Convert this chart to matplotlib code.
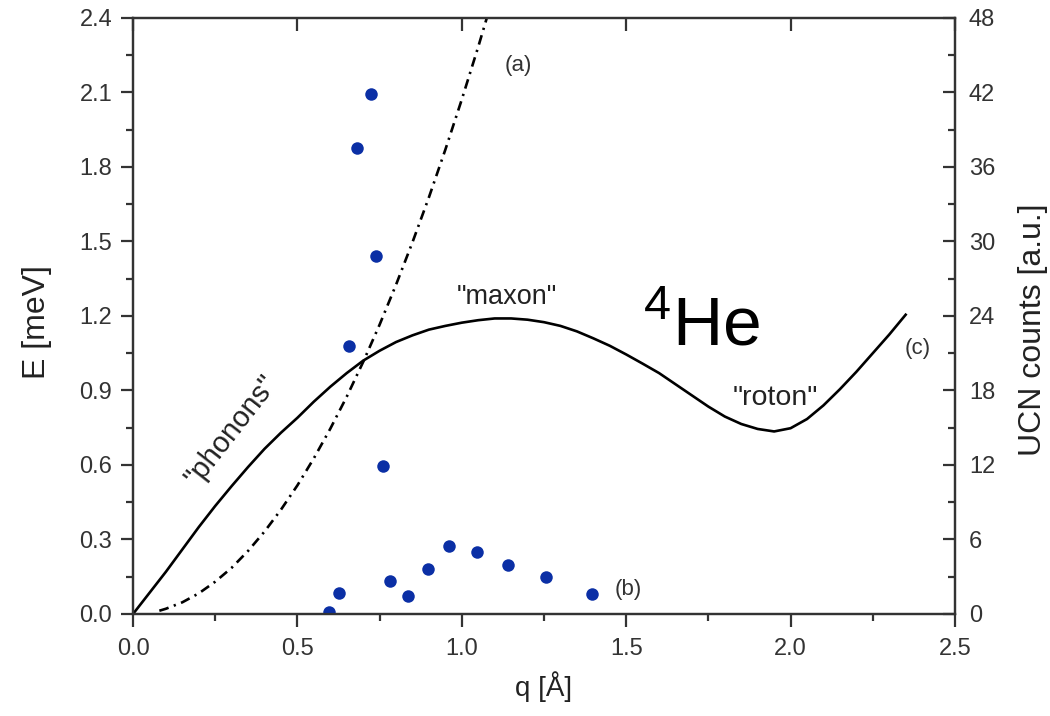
import numpy as np
import matplotlib
matplotlib.use('Agg')
import matplotlib.pyplot as plt
from matplotlib.ticker import MultipleLocator

plt.rcParams['font.family'] = ['Liberation Sans', 'DejaVu Sans']
plt.rcParams['lines.scale_dashes'] = False

# (c) dispersion curve of superfluid 4He
q_c = [0.0, 0.05, 0.1, 0.15, 0.2, 0.25, 0.3, 0.35, 0.4, 0.45, 0.5, 0.55, 0.6,
       0.65, 0.7, 0.75, 0.8, 0.85, 0.9, 0.95, 1.0, 1.05, 1.1, 1.15, 1.2, 1.25,
       1.3, 1.35, 1.4, 1.45, 1.5, 1.55, 1.6, 1.65, 1.7, 1.75, 1.8, 1.85, 1.9,
       1.95, 2.0, 2.05, 2.1, 2.15, 2.2, 2.25, 2.3, 2.35]
E_c = [0.0, 0.085, 0.17, 0.26, 0.35, 0.435, 0.515, 0.592, 0.665, 0.73, 0.79,
       0.855, 0.915, 0.97, 1.02, 1.06, 1.095, 1.122, 1.145, 1.16, 1.173, 1.183,
       1.19, 1.19, 1.185, 1.175, 1.16, 1.138, 1.11, 1.08, 1.045, 1.008, 0.97,
       0.925, 0.88, 0.835, 0.795, 0.765, 0.745, 0.735, 0.748, 0.785, 0.84,
       0.905, 0.975, 1.05, 1.125, 1.205]

# (a) free neutron dispersion
q_a = [0.08, 0.1, 0.15, 0.2, 0.25, 0.3, 0.35, 0.4, 0.45, 0.5, 0.55, 0.6, 0.65,
       0.7, 0.75, 0.8, 0.85, 0.9, 0.95, 1.0, 1.05, 1.076]
E_a = [0.013, 0.021, 0.047, 0.083, 0.13, 0.186, 0.254, 0.332, 0.42, 0.518,
       0.627, 0.746, 0.875, 1.015, 1.165, 1.326, 1.497, 1.678, 1.87, 2.072,
       2.284, 2.40]

# (b) UCN counts
q_b = [0.723, 0.680, 0.738, 0.658, 0.759, 0.596, 0.627, 0.782, 0.835, 0.897,
       0.961, 1.046, 1.140, 1.255, 1.395]
n_b = [41.85, 37.55, 28.85, 21.6, 11.9, 0.15, 1.67, 2.63, 1.45, 3.65,
       5.48, 4.97, 3.95, 2.96, 1.61]

fig = plt.figure(figsize=(10.5, 7.16), dpi=100)
ax = fig.add_axes([0.1267, 0.1425, 0.7828, 0.8324])
ax2 = ax.twinx()

ax.plot(q_c, E_c, color='black', lw=1.9, solid_joinstyle='round')
ax.plot(q_a, E_a, color='black', lw=1.9, dashes=[7, 4, 1.6, 4])
ax2.plot(q_b, n_b, 'o', color='#0b2fa5', markersize=9, markeredgewidth=0)

ax.set_xlim(0, 2.5)
ax.set_ylim(0, 2.4)
ax2.set_ylim(0, 48)

ax.xaxis.set_major_locator(MultipleLocator(0.5))
ax.xaxis.set_minor_locator(MultipleLocator(0.25))
ax.yaxis.set_major_locator(MultipleLocator(0.3))
ax.yaxis.set_minor_locator(MultipleLocator(0.15))
ax2.yaxis.set_major_locator(MultipleLocator(6))
ax2.yaxis.set_minor_locator(MultipleLocator(3))
ax.xaxis.set_major_formatter(plt.FuncFormatter(lambda v, p: f'{v:.1f}'))
ax.yaxis.set_major_formatter(plt.FuncFormatter(lambda v, p: f'{v:.1f}'))

spine_col = '#333333'
for a in (ax, ax2):
    for s in a.spines.values():
        s.set_color(spine_col)
        s.set_linewidth(1.6)

ax.tick_params(axis='x', which='major', direction='out', length=9, width=1.6,
               color=spine_col, labelsize=17, labelcolor='#333333', pad=8)
ax.tick_params(axis='x', which='minor', direction='out', length=5, width=1.6,
               color=spine_col)
ax.tick_params(axis='y', which='major', direction='out', length=9, width=1.6,
               color=spine_col, labelsize=17, labelcolor='#333333', pad=6)
ax.tick_params(axis='y', which='minor', direction='out', length=5, width=1.6,
               color=spine_col)
ax2.tick_params(axis='y', which='major', direction='in', length=9, width=1.6,
                color=spine_col, labelsize=17, labelcolor='#333333', pad=10)
ax2.tick_params(axis='y', which='minor', direction='in', length=5, width=1.6,
                color=spine_col)

# inward major ticks on the top edge
top = ax.secondary_xaxis('top')
top.xaxis.set_major_locator(MultipleLocator(0.5))
top.tick_params(direction='in', length=9, width=1.6, color=spine_col,
                labeltop=False)
top.spines['top'].set_visible(False)

ax.set_xlabel('q [Å]', fontsize=20, color='#222222', labelpad=8)
ax.set_ylabel('E [meV]', fontsize=23, color='#222222')
ax2.set_ylabel('UCN counts [a.u.]', fontsize=23, color='#222222')
ax.yaxis.set_label_coords(-0.0985, 0.49)
ax2.yaxis.set_label_coords(1.077, 0.4765)

ax.text(1.171, 2.207, '(a)', fontsize=16, color='#333333', ha='center', va='center')
ax.text(1.506, 0.097, '(b)', fontsize=16, color='#333333', ha='center', va='center')
ax.text(2.387, 1.071, '(c)', fontsize=16, color='#333333', ha='center', va='center')
ax.text(1.137, 1.277, '"maxon"', fontsize=19.5, color='#222222', ha='center', va='center')
ax.text(1.953, 0.87, '"roton"', fontsize=20.5, color='#222222', ha='center', va='center')
ax.text(0.3, 0.738, '"phonons"', fontsize=21, color='#222222', ha='center',
        va='center', rotation=52)
ax.text(1.55, 1.155, r'$^{\mathregular{4}}$He', fontsize=50, color='black',
        ha='left', va='center')

fig.savefig('out.png', dpi=100)
